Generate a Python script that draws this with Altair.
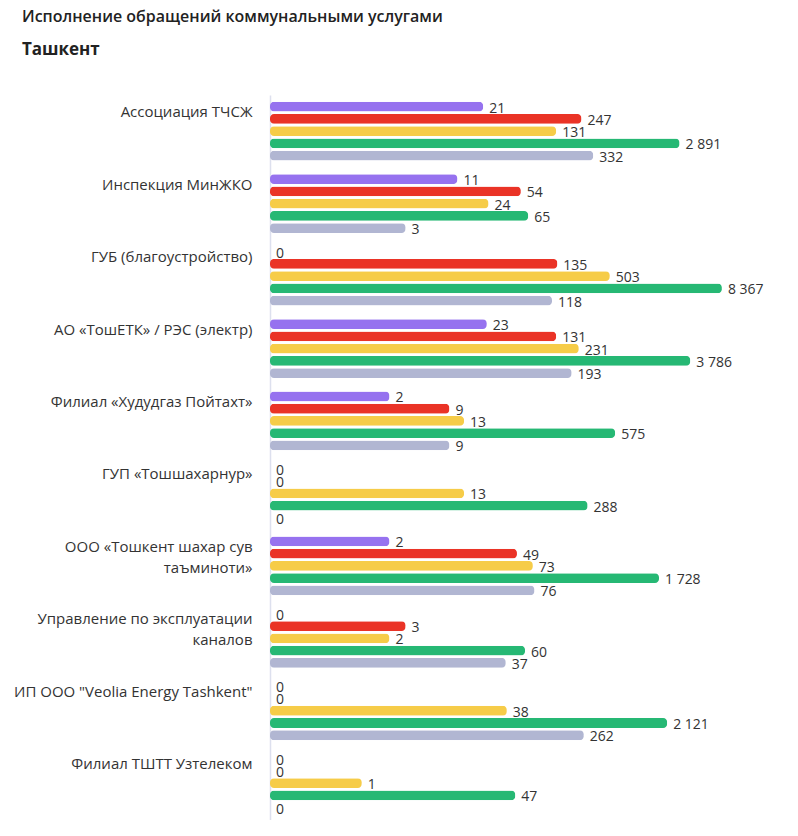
import altair as alt
import pandas as pd

categories = [
    "Ассоциация ТЧСЖ",
    "Инспекция МинЖКО",
    "ГУБ (благоустройство)",
    "АО «ТошЕТК» / РЭС (электр)",
    "Филиал «Худудгаз Пойтахт»",
    "ГУП «Тошшахарнур»",
    "ООО «Тошкент шахар сув\nтаъминоти»",
    "Управление по эксплуатации\nканалов",
    "ИП ООО \"Veolia Energy Tashkent\"",
    "Филиал ТШТТ Узтелеком",
]
series = ["Ряд 1", "Ряд 2", "Ряд 3", "Ряд 4", "Ряд 5"]
colors = ["#9672ef", "#ea3326", "#f6cc48", "#26b874", "#b1b6d2"]

s1 = [21, 11, 0, 23, 2, 0, 2, 0, 0, 0]
s2 = [247, 54, 135, 131, 9, 0, 49, 3, 0, 0]
s3 = [131, 24, 503, 231, 13, 13, 73, 2, 38, 1]
s4 = [2891, 65, 8367, 3786, 575, 288, 1728, 60, 2121, 47]
s5 = [332, 3, 118, 193, 9, 0, 76, 37, 262, 0]

X_MIN, X_MAX = 0.1, 10000

rows = []
for name, vals in zip(series, [s1, s2, s3, s4, s5]):
    for cat, v in zip(categories, vals):
        rows.append({
            "cat": cat,
            "series": name,
            "value": v,
            "pos": max(v, X_MIN),
            "label": f"{v:,}".replace(",", " "),
        })
df = pd.DataFrame(rows)

FONT = "Open Sans"

y_enc = alt.Y(
    "cat:N",
    sort=categories,
    scale=alt.Scale(paddingInner=0, paddingOuter=0),
    axis=alt.Axis(
        title=None,
        ticks=False,
        grid=False,
        domainColor="#dde0ee",
        domainWidth=1.5,
        labelFont=FONT,
        labelFontSize=15,
        labelColor="#333333",
        labelAlign="right",
        labelBaseline="top",
        labelOffset=-26,
        labelPadding=18,
        labelLineHeight=21,
        labelLimit=0,
        labelExpr="split(datum.label, '\\n')",
    ),
)
yoff_enc = alt.YOffset(
    "series:N",
    sort=series,
    scale=alt.Scale(paddingInner=0.2, paddingOuter=0.557),
)
x_scale = alt.Scale(type="log", domain=[X_MIN, X_MAX], clamp=True)

base = alt.Chart(df)

bars = base.transform_filter("datum.value > 0").mark_bar(cornerRadius=4).encode(
    y=y_enc,
    yOffset=yoff_enc,
    x=alt.X("value:Q", scale=x_scale, axis=None),
    color=alt.Color("series:N", sort=series,
                    scale=alt.Scale(domain=series, range=colors), legend=None),
)

texts = base.mark_text(
    align="left", baseline="middle", dx=6, dy=2,
    font=FONT, fontSize=14, color="#333333",
).encode(
    y=y_enc,
    yOffset=yoff_enc,
    x=alt.X("pos:Q", scale=x_scale, axis=None),
    text="label:N",
)

chart = alt.layer(bars, texts).properties(
    width=459,
    height=724.4,
    autosize=alt.AutoSizeParams(type="none"),
    padding={"left": 262, "top": 87, "right": 40, "bottom": 8},
    title=alt.TitleParams(
        text="Исполнение обращений коммунальными услугами",
        subtitle="Ташкент",
        anchor="start",
        frame="group",
        dx=-248,
        offset=37,
        font=FONT,
        fontSize=16,
        fontWeight=600,
        color="#222222",
        subtitleFont=FONT,
        subtitleFontSize=17,
        subtitleFontWeight="bold",
        subtitleColor="#222222",
        subtitlePadding=16.5,
    ),
).configure_view(stroke=None)

chart.save("out.html", embed_options={"renderer": "svg", "actions": False})
